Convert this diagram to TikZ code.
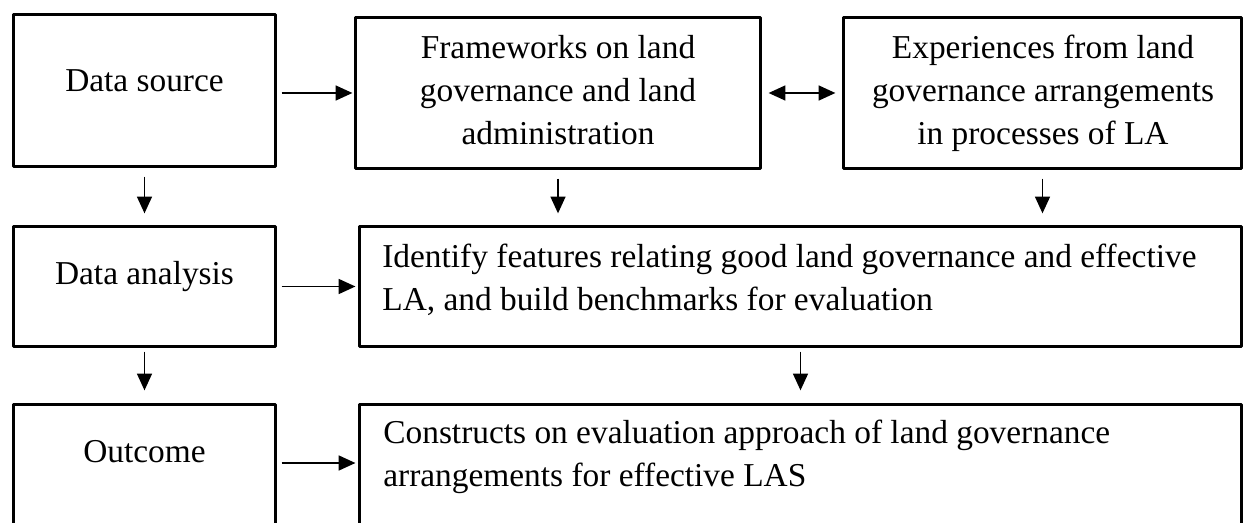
\documentclass[tikz,border=0pt]{standalone}
\usepackage{fontspec}
\setmainfont{Liberation Serif}
\usetikzlibrary{arrows.meta}
\begin{document}
\begin{tikzpicture}[x=0.02cm,y=-0.02cm,line join=round,
	>={Triangle[length=9.5pt,width=8.5pt]},
	font=\fontsize{19pt}{24.45pt}\selectfont,
	box/.style={draw,line width=1.9pt,inner sep=0pt},
	txt/.style={inner sep=0pt},
	arr/.style={->,line width=0.85pt}]
			\clip (0,0) rectangle (1247,523);
			\node[box,minimum width=5.24cm,minimum height=3.04cm] (src) at (144.5,90.5) {};
			\node[box,minimum width=8.1cm,minimum height=3.02cm] (frm) at (558,93) {};
			\node[box,minimum width=7.96cm,minimum height=3.02cm] (exp) at (1042.5,93) {};
			\node[box,minimum width=5.24cm,minimum height=2.4cm] (ana) at (144.5,286.5) {};
			\node[box,minimum width=17.64cm,minimum height=2.4cm] (idf) at (800.5,286.5) {};
			\node[box,minimum width=5.24cm,minimum height=3.1cm] (out) at (144.5,482) {};
			\node[box,minimum width=17.64cm,minimum height=3.1cm] (con) at (800.5,482) {};
			\node[txt,anchor=base] (srctxt) at (144.5,92) {Data source};
			\node[txt,anchor=base] (anatxt) at (144.5,285) {Data analysis};
			\node[txt,anchor=base] (outtxt) at (144.5,462) {Outcome};
			\node[txt,anchor=north,align=center] (frmtxt) at (558,35) {Frameworks on land\\governance and land\\administration};
			\node[txt,anchor=north,align=center] (exptxt) at (1043,35) {Experiences from land\\governance arrangements\\in processes of LA};
			\node[txt,anchor=north west,align=left] (idftxt) at (382,244) {Identify features relating good land governance and effective\\LA, and build benchmarks for evaluation};
			\node[txt,anchor=north west,align=left] (contxt) at (383,420) {Constructs on evaluation approach of land governance\\arrangements for effective LAS};
			\draw[arr,shorten <=0.09cm,shorten >=0.03cm] (src.east|-frm.west)--(frm.west);
			\draw[<->,line width=0.85pt,shorten <=0.13cm,shorten >=0.13cm] (frm.east)--(exp.west);
			\draw[arr,shorten <=0.17cm,shorten >=0.23cm] (src.south)--(ana.north);
			\draw[arr,shorten <=0.17cm,shorten >=0.23cm] (frm.south)--(frm.south|-idf.north);
			\draw[arr,shorten <=0.17cm,shorten >=0.23cm] (exp.south)--(exp.south|-idf.north);
			\draw[arr,shorten <=0.09cm,shorten >=0.05cm] (ana.east)--(idf.west);
			\draw[arr,shorten <=0.07cm,shorten >=0.25cm] (ana.south)--(out.north);
			\draw[arr,shorten <=0.07cm,shorten >=0.25cm] (idf.south)--(con.north);
			\draw[arr,shorten <=0.09cm,shorten >=0.05cm] ([yshift=0.38cm]out.east)--([yshift=0.38cm]con.west);
\end{tikzpicture}
\end{document}
